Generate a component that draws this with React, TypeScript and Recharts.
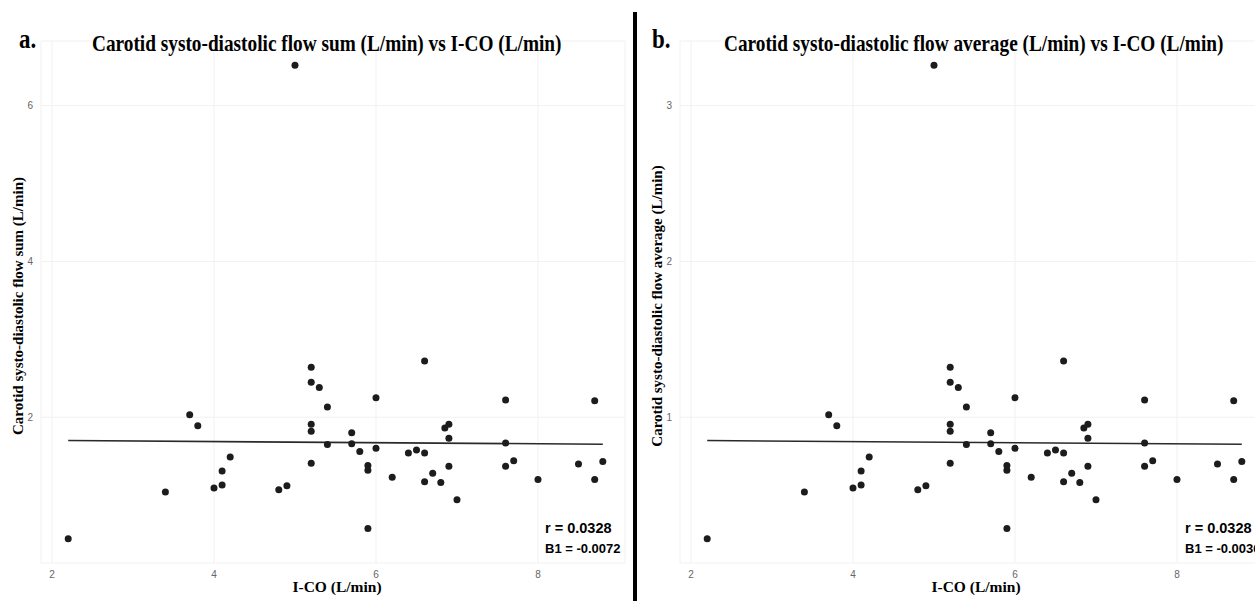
import React from 'react';
import { ScatterChart, Scatter, XAxis, YAxis, CartesianGrid, ReferenceLine } from 'recharts';

// I-CO (L/min) per patient
const ICO = [
  2.2, 3.4, 3.7, 3.8, 4.0, 4.1, 4.1, 4.2, 4.8, 4.9,
  5.0, 5.2, 5.2, 5.2, 5.2, 5.2, 5.3, 5.4, 5.4, 5.7,
  5.7, 5.8, 5.9, 5.9, 5.9, 6.0, 6.0, 6.2, 6.4, 6.5,
  6.6, 6.6, 6.6, 6.7, 6.8, 6.85, 6.9, 6.9, 6.9, 7.0,
  7.6, 7.6, 7.6, 7.7, 8.0, 8.5, 8.7, 8.7, 8.8,
];

// carotid systo-diastolic flow sum (L/min)
const FLOW_SUM = [
  0.44, 1.04, 2.03, 1.89, 1.09, 1.13, 1.31, 1.49, 1.07, 1.12,
  6.52, 2.64, 2.45, 1.91, 1.82, 1.41, 2.38, 2.13, 1.65, 1.8,
  1.66, 1.56, 1.38, 1.32, 0.57, 2.25, 1.6, 1.23, 1.54, 1.58,
  2.72, 1.54, 1.17, 1.28, 1.16, 1.86, 1.91, 1.73, 1.37, 0.94,
  2.22, 1.67, 1.37, 1.44, 1.2, 1.4, 2.21, 1.2, 1.43,
];

// carotid systo-diastolic flow average (L/min)
const FLOW_AVG = [
  0.22, 0.52, 1.015, 0.945, 0.545, 0.565, 0.655, 0.745, 0.535, 0.56,
  3.26, 1.32, 1.225, 0.955, 0.91, 0.705, 1.19, 1.065, 0.825, 0.9,
  0.83, 0.78, 0.69, 0.66, 0.285, 1.125, 0.8, 0.615, 0.77, 0.79,
  1.36, 0.77, 0.585, 0.64, 0.58, 0.93, 0.955, 0.865, 0.685, 0.47,
  1.11, 0.835, 0.685, 0.72, 0.6, 0.7, 1.105, 0.6, 0.715,
];

// fitted line ends
const FIT_X = [2.2, 8.8];
const FIT_SUM = [1.7, 1.653];
const FIT_AVG = [0.85, 0.8265];

const X_TICKS = [2, 4, 6, 8];
const SUM_TICKS = [2, 4, 6];
const AVG_TICKS = [1, 2, 3];

const serif = '"Liberation Serif", "Times New Roman", serif';
const sans = '"Liberation Sans", Arial, sans-serif';
const tickStyle = { fontSize: 10, fill: '#666', fontFamily: sans };

const Dot = (props: any) => <circle cx={props.cx} cy={props.cy} r={3.5} fill="#1c1c1c" />;

type PanelProps = {
  ys: number[];
  yTicks: number[];
  yDomain: [number, number];
  fitY: number[];
};

const Panel = ({ ys, yTicks, yDomain, fitY }: PanelProps) => {
  const data = ICO.map((x, i) => ({ x, y: ys[i] }));
  return (
    <ScatterChart width={634} height={601} margin={{ top: 41, right: 9, bottom: 0, left: 0 }}>
      <CartesianGrid stroke="#f1f1f1" strokeWidth={1} />
      <XAxis
        type="number"
        dataKey="x"
        domain={[1.8642, 9.0741]}
        ticks={X_TICKS}
        height={38}
        axisLine={false}
        tickLine={false}
        tick={tickStyle}
      />
      <YAxis
        type="number"
        dataKey="y"
        domain={yDomain}
        ticks={yTicks}
        width={41}
        axisLine={false}
        tickLine={false}
        tick={tickStyle}
      />
      <ReferenceLine
        segment={[{ x: FIT_X[0], y: fitY[0] }, { x: FIT_X[1], y: fitY[1] }]}
        stroke="#2a2a2a"
        strokeWidth={1.6}
      />
      <Scatter data={data} shape={Dot} isAnimationActive={false} />
    </ScatterChart>
  );
};

export default function App() {
  return (
    <div
      style={{
        position: 'absolute',
        left: 0,
        top: 0,
        width: 1255,
        height: 601,
        overflow: 'hidden',
        background: '#fff',
      }}
    >
      <div style={{ position: 'absolute', left: 0, top: 0 }}>
        <Panel ys={FLOW_SUM} yTicks={SUM_TICKS} yDomain={[0.128, 6.83]} fitY={FIT_SUM} />
      </div>
      <div style={{ position: 'absolute', left: 639, top: 0 }}>
        <Panel ys={FLOW_AVG} yTicks={AVG_TICKS} yDomain={[0.064, 3.415]} fitY={FIT_AVG} />
      </div>
      <svg
        width={1255}
        height={601}
        style={{ position: 'absolute', left: 0, top: 0, pointerEvents: 'none' }}
      >
        <rect x={633} y={12} width={4} height={589} fill="#000" />

        <g transform="translate(19, 48) scale(1, 1.15)">
          <text x={0} y={0} fontFamily={serif} fontWeight="bold" fontSize={23}>a.</text>
        </g>
        <g transform="translate(92, 51) scale(1, 1.15)">
          <text x={0} y={0} fontFamily={serif} fontWeight="bold" fontSize={19.3}>
            Carotid systo-diastolic flow sum (L/min) vs I-CO (L/min)
          </text>
        </g>
        <g transform="translate(652, 48) scale(1, 1.15)">
          <text x={0} y={0} fontFamily={serif} fontWeight="bold" fontSize={23}>b.</text>
        </g>
        <g transform="translate(724, 51) scale(1, 1.15)">
          <text x={0} y={0} fontFamily={serif} fontWeight="bold" fontSize={19.3}>
            Carotid systo-diastolic flow average (L/min) vs I-CO (L/min)
          </text>
        </g>

        <text
          x={18}
          y={306}
          transform="rotate(-90, 18, 306)"
          textAnchor="middle"
          dominantBaseline="central"
          fontFamily={serif}
          fontWeight="bold"
          fontSize={15}
        >
          Carotid systo-diastolic flow sum (L/min)
        </text>
        <text
          x={657}
          y={306}
          transform="rotate(-90, 657, 306)"
          textAnchor="middle"
          dominantBaseline="central"
          fontFamily={serif}
          fontWeight="bold"
          fontSize={15}
        >
          Carotid systo-diastolic flow average (L/min)
        </text>

        <text x={337} y={592} textAnchor="middle" fontFamily={serif} fontWeight="bold" fontSize={15.5}>
          I-CO (L/min)
        </text>
        <text x={976} y={592} textAnchor="middle" fontFamily={serif} fontWeight="bold" fontSize={15.5}>
          I-CO (L/min)
        </text>

        <text x={545} y={533} fontFamily={sans} fontWeight="bold" fontSize={14.5}>r = 0.0328</text>
        <text x={545} y={553} fontFamily={sans} fontWeight="bold" fontSize={13}>B1 = -0.0072</text>
        <text x={1185} y={533} fontFamily={sans} fontWeight="bold" fontSize={14.5}>r = 0.0328</text>
        <text x={1185} y={553} fontFamily={sans} fontWeight="bold" fontSize={13}>B1 = -0.0036</text>
      </svg>
    </div>
  );
}
